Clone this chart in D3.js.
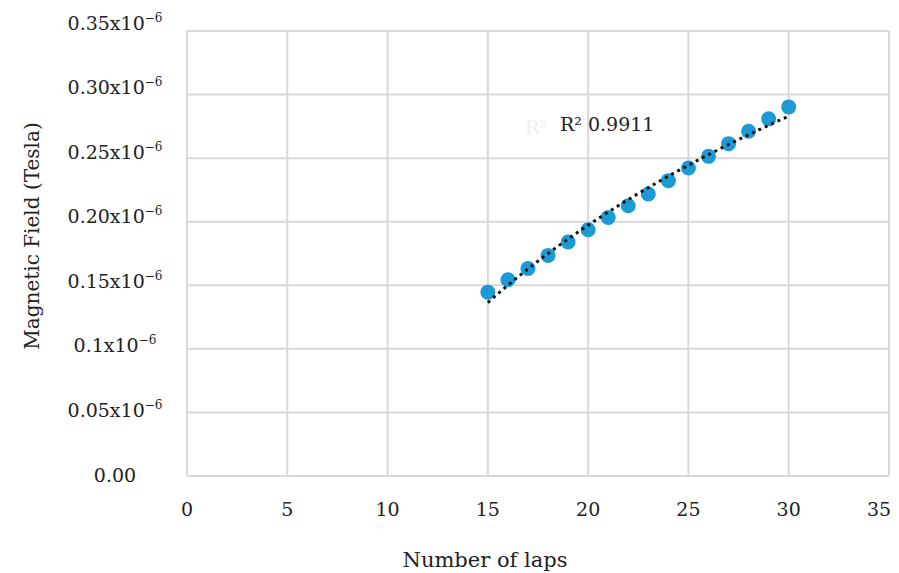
<!DOCTYPE html>
<html>
<head>
<meta charset="utf-8">
<script src="https://cdn.jsdelivr.net/npm/d3@7"></script>
<style>
  html, body { margin: 0; padding: 0; background: #fff; }
  svg { display: block; }
  text { font-family: "DejaVu Serif", serif; fill: #222; }
</style>
</head>
<body>
<svg id="chart" width="899" height="573"></svg>
<script>
// ---- data ----
const laps = [15, 16, 17, 18, 19, 20, 21, 22, 23, 24, 25, 26, 27, 28, 29, 30];
// magnetic field in units of 1e-6 Tesla
const field = [0.1446, 0.1543, 0.1632, 0.1735, 0.1840, 0.1937, 0.2034, 0.2126,
               0.2218, 0.2323, 0.2423, 0.2514, 0.2614, 0.2711, 0.2809, 0.2903];
const r2Label = "R\u00B2 0.9911";
const xTicks = [0, 5, 10, 15, 20, 25, 30, 35];
const yTicks = [0, 0.05, 0.10, 0.15, 0.20, 0.25, 0.30, 0.35];
const yTickLabels = ["0.00", "0.05", "0.1", "0.15", "0.20", "0.25", "0.30", "0.35"];
const xTitle = "Number of laps";
const yTitle = "Magnetic Field (Tesla)";

// ---- layout ----
const svg = d3.select("#chart");
const W = 899, H = 573;
const plot = { left: 187, right: 889, top: 31, bottom: 476 };

const x = d3.scaleLinear().domain([0, 35]).range([plot.left, plot.right]);
const y = d3.scaleLinear().domain([0, 0.35]).range([plot.bottom, plot.top]);
// label positions of y ticks (labels drift slightly from grid in original)
const yLab = d3.scaleLinear().domain([0, 0.35]).range([plot.bottom - 1.5, plot.top - 8.5]);

const gridColor = "#d9d9d9";

// gridlines
svg.append("g")
  .selectAll("line")
  .data(yTicks)
  .join("line")
  .attr("x1", plot.left).attr("x2", plot.right)
  .attr("y1", d => y(d)).attr("y2", d => y(d))
  .attr("stroke", gridColor).attr("stroke-width", 2);

svg.append("g")
  .selectAll("line")
  .data(xTicks)
  .join("line")
  .attr("x1", d => x(d)).attr("x2", d => x(d))
  .attr("y1", plot.top).attr("y2", plot.bottom)
  .attr("stroke", gridColor).attr("stroke-width", 2);

// x tick labels
svg.append("g")
  .selectAll("text")
  .data(xTicks)
  .join("text")
  .attr("x", d => Math.min(x(d), W - 20))
  .attr("y", 516)
  .attr("text-anchor", "middle")
  .attr("font-size", 19)
  .text(d => d);

// y tick labels
const yl = svg.append("g")
  .selectAll("text")
  .data(yTicks)
  .join("text")
  .attr("x", 115)
  .attr("y", d => yLab(d) + 7)
  .attr("text-anchor", "middle")
  .attr("font-size", 19);
yl.each(function(d, i) {
  const t = d3.select(this);
  if (d === 0) {
    t.text(yTickLabels[i]);
  } else {
    t.append("tspan").text(yTickLabels[i] + "x10");
    t.append("tspan").attr("dy", -8).attr("font-size", 12).text("\u22126");
  }
});

// axis titles
svg.append("text")
  .attr("x", 485).attr("y", 567)
  .attr("text-anchor", "middle")
  .attr("font-size", 21)
  .text(xTitle);

svg.append("text")
  .attr("transform", "translate(39,236) rotate(-90)")
  .attr("text-anchor", "middle")
  .attr("font-size", 20)
  .text(yTitle);

// points
const pts = laps.map((l, i) => ({ l, v: field[i] }));
svg.append("g")
  .selectAll("circle")
  .data(pts)
  .join("circle")
  .attr("cx", d => x(d.l))
  .attr("cy", d => y(d.v))
  .attr("r", 7.5)
  .attr("fill", "#1c9ad6");

// logarithmic trendline (least squares fit y = a + b ln x)
const lx = laps.map(Math.log);
const mx = d3.mean(lx), my = d3.mean(field);
const b = d3.sum(lx, (v, i) => (v - mx) * (field[i] - my)) / d3.sum(lx, v => (v - mx) * (v - mx));
const a = my - b * mx;
const trend = d3.range(laps[0], laps[laps.length - 1] + 0.001, 0.25).map(t => [t, a + b * Math.log(t)]);
svg.append("path")
  .datum(trend)
  .attr("d", d3.line().x(d => x(d[0])).y(d => y(d[1])))
  .attr("fill", "none")
  .attr("stroke", "#111")
  .attr("stroke-width", 3)
  .attr("stroke-dasharray", "3,4");

// ghost R² label and R² label
svg.append("text")
  .attr("x", 525).attr("y", 134)
  .attr("font-size", 19)
  .style("fill", "#f1f1f1")
  .text("R\u00B2");

svg.append("text")
  .attr("x", 560).attr("y", 131)
  .attr("font-size", 19)
  .text(r2Label);
</script>
</body>
</html>
